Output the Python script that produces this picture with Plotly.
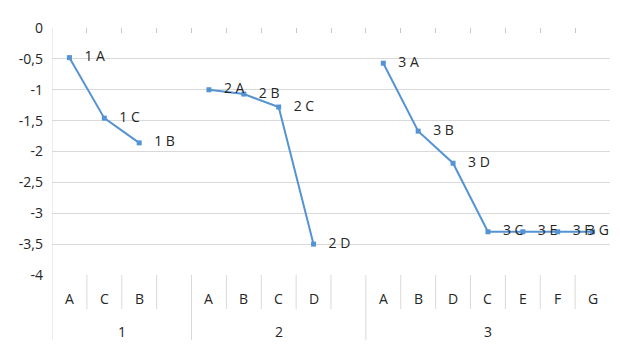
import plotly.graph_objects as go

# ---- data ----
categories = ["A", "C", "B", "", "A", "B", "C", "D", "", "A", "B", "D", "C", "E", "F", "G"]
groups = ["1", "2", "3"]
group_sizes = [4, 5, 7]
values = [-0.48, -1.46, -1.86, None,
          -1.0, -1.07, -1.28, -3.5, None,
          -0.57, -1.67, -2.19, -3.3, -3.3, -3.3, -3.3]
point_labels = ["1 A", "1 C", "1 B", "",
                "2 A", "2 B", "2 C", "2 D", "",
                "3 A", "3 B", "3 D", "3 C", "3 E", "3 F", "3 G"]
y_ticks = [0, -0.5, -1, -1.5, -2, -2.5, -3, -3.5, -4]
y_tick_text = ["0", "-0,5", "-1", "-1,5", "-2", "-2,5", "-3", "-3,5", "-4"]

FONT = "Open Sans, Liberation Sans, sans-serif"
GRID = "#d9d9d9"
BLUE = "#5593d3"
TXT = "#262626"

x = list(range(len(categories)))
n = len(categories)

positions = ["middle right"] * (n - 1) + ["middle center"]
templates = ["   %{text}"] * (n - 1) + ["   %{text}"]

fig = go.Figure()
fig.add_trace(go.Scatter(
    x=x, y=values, mode="lines+markers+text",
    text=point_labels, texttemplate=templates, textposition=positions,
    textfont=dict(family=FONT, size=14, color=TXT),
    line=dict(color=BLUE, width=2), marker=dict(symbol="square", size=5, color=BLUE),
    connectgaps=False, cliponaxis=False, showlegend=False,
))

shapes = []
bounds = []
acc = 0
for s in group_sizes:
    acc += s
    bounds.append(acc - 0.5)
long_y = -65 / 247
short_y = -34 / 247
shapes.append(dict(type="line", xref="x", yref="paper", x0=-0.5, x1=-0.5, y0=1, y1=long_y,
                   line=dict(color=GRID, width=1)))
for i in range(n - 1):
    b = i + 0.5
    y1 = long_y if b in bounds else short_y
    shapes.append(dict(type="line", xref="x", yref="paper", x0=b, x1=b, y0=0, y1=y1,
                       line=dict(color=GRID, width=1)))

annotations = []
for i, c in enumerate(categories):
    if c:
        annotations.append(dict(x=i, y=0, xref="x", yref="paper", text=c, showarrow=False,
                                yshift=-23, yanchor="middle",
                                font=dict(family=FONT, size=14, color=TXT)))
start = 0
for g, s in zip(groups, group_sizes):
    mid = start + (s - 1) / 2
    annotations.append(dict(x=mid, y=0, xref="x", yref="paper", text=g, showarrow=False,
                            yshift=-56, yanchor="middle",
                            font=dict(family=FONT, size=14, color=TXT)))
    start += s

# page body has an 8px margin, so the figure is sized/offset to match the reference
fig.update_layout(
    width=613, height=338,
    margin=dict(l=44, r=11, t=20, b=71),
    paper_bgcolor="white", plot_bgcolor="white",
    shapes=shapes, annotations=annotations,
    xaxis=dict(range=[-0.5, n - 0.5], side="top", showticklabels=False, automargin=False,
               tickvals=[i + 0.5 for i in range(n - 1)], ticks="inside", ticklen=5,
               tickcolor="#c8c8c8", showgrid=False, zeroline=False, showline=False),
    yaxis=dict(range=[-4, 0], tickvals=y_ticks, ticktext=y_tick_text, automargin=False,
               showgrid=True, gridcolor=GRID, gridwidth=1, zeroline=False, showline=False,
               ticks="", ticklabelstandoff=8,
               tickfont=dict(family=FONT, size=14, color=TXT)),
)

fig.write_html("out.html")
